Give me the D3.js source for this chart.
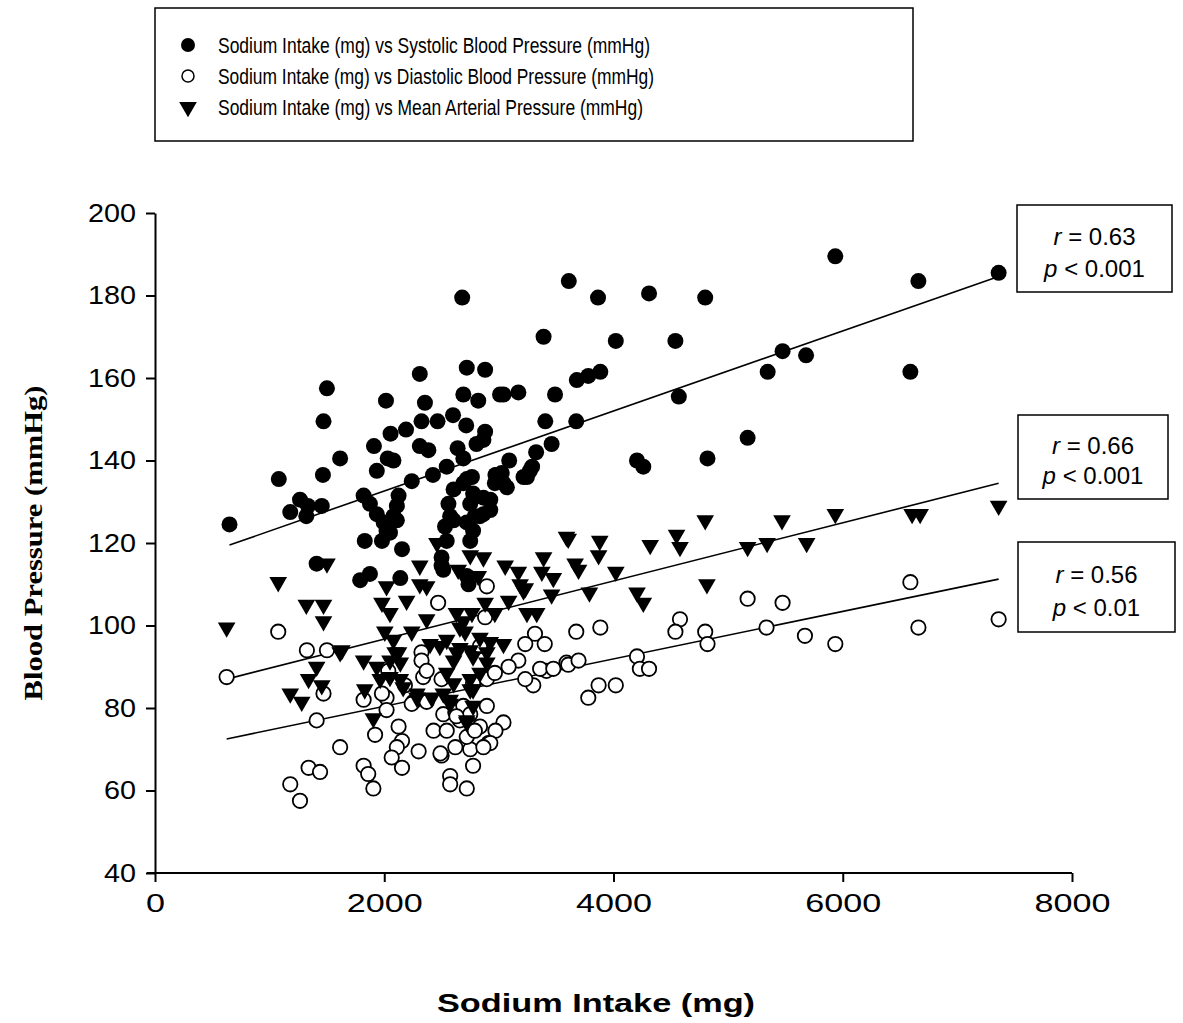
<!DOCTYPE html>
<html>
<head>
<meta charset="utf-8">
<script src="https://cdn.jsdelivr.net/npm/d3@7"></script>
<style>
  body { margin: 0; background: #fff; }
  svg { display: block; }
</style>
</head>
<body>
<svg id="chart" width="1183" height="1023"></svg>
<script>
// series: [sodium intake (mg), pressure (mmHg)]
const systolic = [
  [650,124.5],[1080,135.5],[1180,127.5],[1265,130.5],[1335,129],[1320,126.5],[1455,129],[1465,136.5],
  [1470,149.5],[1500,157.5],[1410,115],[1615,140.5],[1790,111],[1875,112.5],[1820,131.5],[1875,129.5],
  [1935,127],[1995,125],[2050,122.5],[2110,125.5],[2125,131.5],[2110,129],[1830,120.5],[2155,118.5],
  [2140,111.5],[1935,137.5],[1910,143.5],[2015,154.5],[2030,140.5],[2055,146.5],[2190,147.5],[2240,135],
  [2310,161],[2355,154],[2310,143.5],[2385,142.5],[2325,149.5],[2465,149.5],[2425,136.5],[2545,138.5],
  [2600,151],[2640,143],[2690,140.5],[2690,156],[2680,179.5],[2720,162.5],[2880,162],[2820,154.5],
  [2715,148.5],[2880,147],[2865,145],[2720,135.5],[2970,136.5],[3010,156],[2605,133],[2690,134.5],
  [2765,136],[2560,129.5],[2575,126.5],[2750,129.5],[2790,126.5],[2775,123],[2750,120.5],[2865,131],
  [2865,127],[2545,120.5],[2500,114.5],[2515,113.5],[2720,112],[2735,110],[3040,156],[3170,156.5],
  [3490,156],[3390,170],[3610,183.5],[3865,179.5],[4310,180.5],[4800,179.5],[4020,169],[4540,169],
  [3680,159.5],[3780,160.5],[3885,161.5],[4570,155.5],[3405,149.5],[3675,149.5],[3460,144],[3325,142],
  [3090,140],[3290,138.5],[3245,136],[2980,136.5],[3040,134.5],[4205,140],[4260,138.5],[4820,140.5],
  [5170,145.5],[5345,161.5],[5475,166.5],[5680,165.5],[5935,189.5],[6660,183.5],[7360,185.5],[6590,161.5],
  [2500,116.5],[2720,125],[2835,126.5],[2925,128],[2605,125.5],[2530,124],[2775,132],[2925,130.5],
  [2965,134.5],[3025,137],[3070,133.5],[3215,136],[3270,137.5],[2080,140],[2080,126.5],[2020,123],
  [2805,144],[1980,120.5]
];

const diastolic = [
  [625,87.5],[1075,98.5],[1325,94],[1500,94],[2470,105.5],[2895,109.5],[2325,93.5],[2325,91.5],
  [1470,83.5],[1410,77],[1615,70.5],[1340,65.5],[1440,64.5],[1180,61.5],[1265,57.5],[1820,66],
  [1860,64],[1905,60.5],[1820,82],[1920,73.5],[2020,82.5],[2020,79.5],[2125,75.5],[2155,72],
  [2110,70.5],[2065,68],[2155,65.5],[2300,69.5],[2255,81.5],[2370,81.5],[2340,87.5],[2430,74.5],
  [2500,68.5],[2575,63.5],[2575,61.5],[2720,60.5],[2775,66],[2515,78.5],[2620,79],[2660,77],
  [2835,75.5],[2895,80.5],[2910,71.5],[2750,70],[2720,73],[2895,87],[2775,86],[2880,102],
  [2835,95],[2370,89],[2500,87],[3315,98],[3400,95.5],[3230,95.5],[3170,91.5],[3085,90],
  [2965,88.5],[3300,85.5],[3230,87],[3415,89],[3590,91],[3040,76.5],[2970,74.5],[2925,71.5],
  [2865,70.5],[2545,74.5],[2490,69],[2620,70.5],[2790,74.5],[2690,80.5],[2750,78.5],[2630,78],
  [1980,83.5],[2240,81],[2035,89],[2180,85.5],[3675,98.5],[3885,99.5],[4580,101.5],[4540,98.5],
  [4800,98.5],[4820,95.5],[5335,99.5],[5170,106.5],[5475,105.5],[5670,97.5],[5935,95.5],[6590,110.5],
  [6660,99.5],[7360,101.5],[3360,89.5],[3475,89.5],[3605,90.5],[3695,91.5],[3870,85.5],[4020,85.5],
  [3780,82.5],[4205,92.5],[4230,89.5],[4310,89.5]
];

const meanArterial = [
  [625,99.5],[1075,110.5],[1320,105],[1470,105],[1470,101],[1500,115],[1630,94],[1410,90],
  [1615,93.5],[1340,87],[1455,85.5],[1180,83.5],[1280,81.5],[1820,91.5],[1935,90],[2050,91.5],
  [2125,93.5],[1830,84.5],[1965,87],[2050,87.5],[2165,85],[1905,77.5],[2285,82.5],[2415,82.5],
  [2485,95],[2630,93.5],[2750,94],[2895,93.5],[2575,82],[2750,84.5],[2775,80.5],[2720,76.5],
  [2310,114.5],[2460,120],[2750,117],[2865,116.5],[3055,114.5],[3170,113],[3390,116.5],[3375,113],
  [3475,111.5],[3590,121.5],[2020,109.5],[2310,110],[2370,109.5],[2645,113.5],[2820,112],[3215,108.5],
  [3460,107.5],[2195,106],[2880,105.5],[3085,106],[1980,105.5],[2050,103],[2370,101.5],[2630,103],
  [2690,101],[2765,103],[2965,103],[3245,103],[3330,103],[2240,98.5],[2660,99.5],[2705,98.5],
  [2005,98.5],[2080,96.5],[2400,95.5],[2545,96.5],[2660,94.5],[2835,97],[2925,96],[3040,95.5],
  [2095,93.5],[2140,91],[2605,91.5],[2775,92.5],[2895,91],[2835,88.5],[2545,88.5],[2605,86],
  [2750,87],[2775,84.5],[2140,87],[2285,83.5],[2515,83.5],[2575,81],[2720,77],[3605,121],
  [3880,120.5],[3870,117],[4320,119.5],[4550,122],[4580,119],[4800,125.5],[5470,125.5],[5170,119],
  [5340,120],[4815,110],[4205,108],[4260,105.5],[3665,115],[3695,113.5],[4020,113],[3790,108],
  [3185,110],[3230,109],[5935,127],[6605,127],[6675,127],[7360,129],[5685,120]
];

// fitted lines: [intercept, slope]
const systolicFit = [113.2, 0.009702];
const meanArterialFit = [82.6, 0.007049];
const diastolicFit = [68.9, 0.005753];

const statLabels = [
  { r: "0.63", p: "0.001" },
  { r: "0.66", p: "0.001" },
  { r: "0.56", p: "0.01" }
];

const legendLabels = [
  "Sodium Intake (mg) vs Systolic Blood Pressure (mmHg)",
  "Sodium Intake (mg) vs Diastolic Blood Pressure (mmHg)",
  "Sodium Intake (mg) vs Mean Arterial Pressure (mmHg)"
];

const xTicks = [0, 2000, 4000, 6000, 8000];
const yTicks = [40, 60, 80, 100, 120, 140, 160, 180, 200];

const svg = d3.select("#chart");
const sans = "'Liberation Sans', Arial, sans-serif";

const xScale = d3.scaleLinear().domain([0, 8000]).range([155, 1072]);
const yScale = d3.scaleLinear().domain([40, 200]).range([873, 213]);

const triangle = d3.symbol().type(d3.symbolTriangle).size(135)();

// axes
const xAxis = d3.axisBottom(xScale).tickValues(xTicks).tickFormat(d3.format("d"))
  .tickSize(9).tickSizeOuter(0).tickPadding(12);
const yAxis = d3.axisLeft(yScale).tickValues(yTicks).tickFormat(d3.format("d"))
  .tickSize(9).tickSizeOuter(0).tickPadding(10);

const gx = svg.append("g").attr("transform", "translate(0,873)").call(xAxis);
const gy = svg.append("g").attr("transform", "translate(155,0)").call(yAxis);

[gx, gy].forEach(g => {
  g.select(".domain").attr("stroke", "#000").attr("stroke-width", 2);
  g.selectAll(".tick line").attr("stroke", "#000").attr("stroke-width", 2);
  g.selectAll(".tick text")
    .attr("fill", "#000")
    .style("font-family", sans)
    .style("font-size", "25px");
});
gx.selectAll(".tick text").attr("textLength", d => String(d).length * 19).attr("lengthAdjust", "spacingAndGlyphs");
gy.selectAll(".tick text").attr("textLength", d => String(d).length * 16).attr("lengthAdjust", "spacingAndGlyphs");
gx.select(".domain").attr("d", "M147,0H1072");

// axis titles
svg.append("text")
  .attr("x", 596).attr("y", 1012)
  .attr("text-anchor", "middle")
  .attr("textLength", 318).attr("lengthAdjust", "spacingAndGlyphs")
  .style("font-family", sans).style("font-weight", "bold").style("font-size", "26px")
  .text("Sodium Intake (mg)");

svg.append("text")
  .attr("transform", "translate(42,543) rotate(-90)")
  .attr("text-anchor", "middle")
  .attr("textLength", 315).attr("lengthAdjust", "spacingAndGlyphs")
  .style("font-family", "'Liberation Serif', 'Times New Roman', serif")
  .style("font-weight", "bold").style("font-size", "25px")
  .text("Blood Pressure (mmHg)");

// regression lines
const fitLine = (data, fit) => {
  const ext = d3.extent(data, d => d[0]);
  return d3.line()(ext.map(x => [xScale(x), yScale(fit[0] + fit[1] * x)]));
};
svg.append("g").selectAll("path")
  .data([[systolic, systolicFit], [meanArterial, meanArterialFit], [diastolic, diastolicFit]])
  .join("path")
  .attr("d", d => fitLine(d[0], d[1]))
  .attr("fill", "none").attr("stroke", "#000").attr("stroke-width", 1.6);

// points
svg.append("g").selectAll("circle")
  .data(systolic).join("circle")
  .attr("cx", d => xScale(d[0])).attr("cy", d => yScale(d[1]))
  .attr("r", 8).attr("fill", "#000");

svg.append("g").selectAll("circle")
  .data(diastolic).join("circle")
  .attr("cx", d => xScale(d[0])).attr("cy", d => yScale(d[1]))
  .attr("r", 7.2).attr("fill", "#fff").attr("stroke", "#000").attr("stroke-width", 1.8);

svg.append("g").selectAll("path")
  .data(meanArterial).join("path")
  .attr("d", triangle)
  .attr("transform", d => `translate(${xScale(d[0])},${yScale(d[1])}) rotate(180)`)
  .attr("fill", "#000");

// stat boxes
const statBoxes = [
  { x: 1017, y: 205, w: 155, h: 87 },
  { x: 1018, y: 415, w: 150, h: 84 },
  { x: 1018, y: 542, w: 157, h: 90 }
];
statBoxes.forEach((b, i) => {
  const g = svg.append("g");
  g.append("rect").attr("x", b.x).attr("y", b.y).attr("width", b.w).attr("height", b.h)
    .attr("fill", "#fff").attr("stroke", "#000").attr("stroke-width", 1.5);
  const cx = b.x + b.w / 2;
  const t1 = g.append("text").attr("x", cx).attr("y", b.y + b.h * 0.36 + 9)
    .attr("text-anchor", "middle").style("font-family", sans).style("font-size", "24px");
  t1.append("tspan").style("font-style", "italic").text("r");
  t1.append("tspan").text(" = " + statLabels[i].r);
  const t2 = g.append("text").attr("x", cx).attr("y", b.y + b.h * 0.72 + 9)
    .attr("text-anchor", "middle").style("font-family", sans).style("font-size", "24px");
  t2.append("tspan").style("font-style", "italic").text("p");
  t2.append("tspan").text(" < " + statLabels[i].p);
});

// legend
const legend = svg.append("g");
legend.append("rect").attr("x", 155).attr("y", 8).attr("width", 758).attr("height", 133)
  .attr("fill", "#fff").attr("stroke", "#000").attr("stroke-width", 1.5);
const legendRows = legend.selectAll("g.row").data(legendLabels).join("g")
  .attr("class", "row")
  .attr("transform", (d, i) => `translate(188,${45 + i * 31})`);
legendRows.filter((d, i) => i === 0).append("circle").attr("r", 7).attr("fill", "#000");
legendRows.filter((d, i) => i === 1).append("circle").attr("r", 6).attr("fill", "#fff")
  .attr("stroke", "#000").attr("stroke-width", 1.5);
legendRows.filter((d, i) => i === 2).append("path").attr("d", triangle).attr("transform", "rotate(180)");
const legendWidths = [432, 436, 425];
legendRows.append("text")
  .attr("x", 30).attr("y", 8)
  .attr("textLength", (d, i) => legendWidths[i]).attr("lengthAdjust", "spacingAndGlyphs")
  .style("font-family", sans).style("font-size", "22px")
  .text(d => d);
</script>
</body>
</html>
